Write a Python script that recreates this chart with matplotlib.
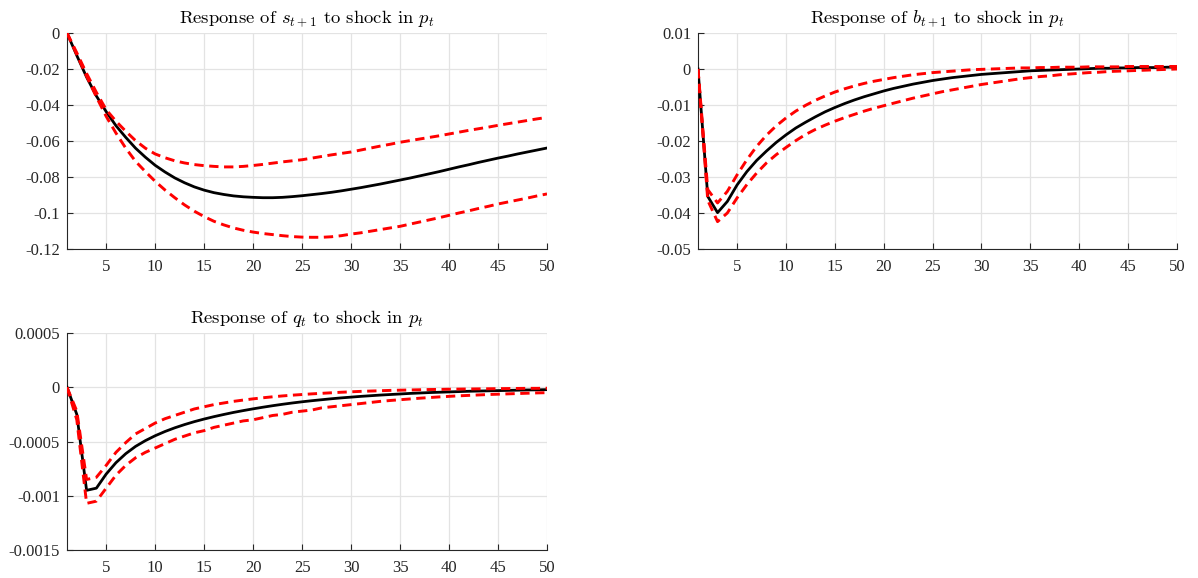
import numpy as np
import matplotlib
matplotlib.use("Agg")
import matplotlib.pyplot as plt

plt.rcParams['font.family'] = 'serif'
plt.rcParams['font.serif'] = ['Liberation Serif', 'DejaVu Serif']
plt.rcParams['mathtext.fontset'] = 'cm'
plt.rcParams['axes.unicode_minus'] = False

# horizon
t = np.arange(1, 51)

# response of s_{t+1}
s_mid = [0, -0.0125, -0.0245, -0.0350, -0.0437, -0.0515, -0.0580, -0.0640, -0.0690, -0.0735,
         -0.0772, -0.0805, -0.0832, -0.0855, -0.0873, -0.0887, -0.0897, -0.0905, -0.0910, -0.0913,
         -0.0915, -0.0915, -0.0913, -0.0909, -0.0904, -0.0898, -0.0892, -0.0885, -0.0877, -0.0868,
         -0.0859, -0.0849, -0.0839, -0.0828, -0.0817, -0.0806, -0.0794, -0.0782, -0.0770, -0.0757,
         -0.0744, -0.0732, -0.0719, -0.0707, -0.0695, -0.0684, -0.0672, -0.0661, -0.0650, -0.0639]
s_hi = [0, -0.0110, -0.0225, -0.0330, -0.0426, -0.0490, -0.0546, -0.0598, -0.0640, -0.0672,
        -0.0693, -0.0710, -0.0722, -0.0731, -0.0737, -0.0741, -0.0744, -0.0744, -0.0741, -0.0736,
        -0.0730, -0.0723, -0.0716, -0.0710, -0.0704, -0.0695, -0.0686, -0.0677, -0.0669, -0.0661,
        -0.0650, -0.0639, -0.0628, -0.0618, -0.0607, -0.0598, -0.0589, -0.0580, -0.0571, -0.0561,
        -0.0551, -0.0541, -0.0532, -0.0523, -0.0513, -0.0504, -0.0495, -0.0486, -0.0477, -0.0469]
s_lo = [0, -0.0120, -0.0240, -0.0355, -0.0463, -0.0556, -0.0640, -0.0713, -0.0770, -0.0824,
        -0.0872, -0.0915, -0.0955, -0.0990, -0.1020, -0.1046, -0.1066, -0.1083, -0.1096, -0.1106,
        -0.1114, -0.1120, -0.1126, -0.1131, -0.1134, -0.1135, -0.1135, -0.1132, -0.1126, -0.1117,
        -0.1110, -0.1101, -0.1092, -0.1083, -0.1074, -0.1062, -0.1050, -0.1038, -0.1026, -0.1013,
        -0.1000, -0.0988, -0.0975, -0.0963, -0.0950, -0.0939, -0.0928, -0.0917, -0.0905, -0.0894]

# response of b_{t+1}
b_mid = [0, -0.0354, -0.0399, -0.0368, -0.0322, -0.0285, -0.0254, -0.0228, -0.0204, -0.0183,
         -0.0164, -0.0148, -0.0133, -0.0119, -0.0107, -0.0096, -0.0086, -0.0077, -0.0069, -0.0061,
         -0.0054, -0.0048, -0.0042, -0.0037, -0.0032, -0.0028, -0.0024, -0.0021, -0.0018, -0.0015,
         -0.0013, -0.0011, -0.0009, -0.0007, -0.0005, -0.0004, -0.0003, -0.0002, -0.0001, 0.0000,
         0.0001, 0.0002, 0.0002, 0.0003, 0.0003, 0.0004, 0.0004, 0.0004, 0.0005, 0.0005]
b_hi = [0, -0.0335, -0.0372, -0.0340, -0.0294, -0.0252, -0.0215, -0.0184, -0.0158, -0.0136,
        -0.0117, -0.0101, -0.0087, -0.0075, -0.0064, -0.0055, -0.0047, -0.0040, -0.0034, -0.0029,
        -0.0024, -0.0020, -0.0016, -0.0013, -0.0010, -0.0008, -0.0006, -0.0004, -0.0002, -0.0001,
        0.0000, 0.0001, 0.0002, 0.0003, 0.0003, 0.0004, 0.0004, 0.0005, 0.0005, 0.0005,
        0.0006, 0.0006, 0.0006, 0.0006, 0.0007, 0.0007, 0.0007, 0.0007, 0.0007, 0.0007]
b_lo = [0, -0.0365, -0.0424, -0.0400, -0.0358, -0.0321, -0.0289, -0.0261, -0.0238, -0.0218,
        -0.0199, -0.0182, -0.0168, -0.0156, -0.0145, -0.0135, -0.0126, -0.0117, -0.0109, -0.0102,
        -0.0095, -0.0088, -0.0081, -0.0075, -0.0069, -0.0063, -0.0058, -0.0053, -0.0048, -0.0043,
        -0.0039, -0.0035, -0.0031, -0.0027, -0.0024, -0.0021, -0.0019, -0.0016, -0.0014, -0.0012,
        -0.0010, -0.0009, -0.0007, -0.0006, -0.0005, -0.0004, -0.0003, -0.0002, -0.0001, 0.0000]

# response of q_t
q_mid = [0, -0.00025, -0.00095, -0.00093, -0.00080, -0.000695, -0.000612, -0.000545, -0.000492, -0.000447,
         -0.000408, -0.000374, -0.000344, -0.000317, -0.000293, -0.000271, -0.000251, -0.000232, -0.000215, -0.000199,
         -0.000184, -0.000170, -0.000157, -0.000145, -0.000134, -0.000124, -0.000115, -0.000106, -0.000098, -0.000091,
         -0.000084, -0.000078, -0.000072, -0.000067, -0.000062, -0.000057, -0.000053, -0.000049, -0.000046, -0.000043,
         -0.000040, -0.000037, -0.000035, -0.000033, -0.000031, -0.000029, -0.000027, -0.000025, -0.000024, -0.000022]
q_hi = [0, -0.00022, -0.00085, -0.00083, -0.00072, -0.00060, -0.00051, -0.00043, -0.00038, -0.00033,
        -0.00029, -0.00026, -0.00023, -0.00020, -0.00018, -0.00016, -0.000145, -0.00013, -0.000118, -0.000107,
        -0.000097, -0.000088, -0.000080, -0.000073, -0.000067, -0.000061, -0.000056, -0.000051, -0.000046, -0.000042,
        -0.000038, -0.000035, -0.000032, -0.000029, -0.000027, -0.000025, -0.000023, -0.000021, -0.000020, -0.000018,
        -0.000017, -0.000016, -0.000015, -0.000014, -0.000013, -0.000012, -0.000011, -0.000010, -0.000010, -0.000009]
q_lo = [0, -0.00030, -0.00107, -0.00105, -0.00093, -0.00081, -0.00072, -0.00065, -0.00060, -0.00056,
        -0.00052, -0.00048, -0.00045, -0.00042, -0.00040, -0.00037, -0.00035, -0.00033, -0.00031, -0.00030,
        -0.00028, -0.00026, -0.00025, -0.00023, -0.00022, -0.00021, -0.00019, -0.00018, -0.00017, -0.00016,
        -0.00015, -0.00014, -0.00013, -0.000122, -0.000115, -0.000108, -0.000101, -0.000095, -0.000089, -0.000084,
        -0.000079, -0.000075, -0.000071, -0.000067, -0.000064, -0.000061, -0.000058, -0.000055, -0.000052, -0.000050]

x_ticks = [5, 10, 15, 20, 25, 30, 35, 40, 45, 50]
s_yticks = [0, -0.02, -0.04, -0.06, -0.08, -0.1, -0.12]
s_ylabels = ['0', '-0.02', '-0.04', '-0.06', '-0.08', '-0.1', '-0.12']
b_yticks = [0.01, 0, -0.01, -0.02, -0.03, -0.04, -0.05]
b_ylabels = ['0.01', '0', '-0.01', '-0.02', '-0.03', '-0.04', '-0.05']
q_yticks = [0.0005, 0, -0.0005, -0.001, -0.0015]
q_ylabels = ['0.0005', '0', '-0.0005', '-0.001', '-0.0015']

panels = [
    (r'Response of $s_{t+1}$ to shock in $p_t$', s_mid, s_hi, s_lo, s_yticks, s_ylabels,
     [67, 33, 480, 216]),
    (r'Response of $b_{t+1}$ to shock in $p_t$', b_mid, b_hi, b_lo, b_yticks, b_ylabels,
     [698, 33, 479, 216]),
    (r'Response of $q_t$ to shock in $p_t$', q_mid, q_hi, q_lo, q_yticks, q_ylabels,
     [67, 333, 480, 217]),
]

W, H = 1198, 578
fig = plt.figure(figsize=(W / 100, H / 100), dpi=100)
axis_col = '#262626'

for title, mid, hi, lo, yt, yl, (px, py, pw, ph) in panels:
    ax = fig.add_axes([px / W, 1 - (py + ph) / H, pw / W, ph / H])
    ax.plot(t, mid, color='black', lw=2.0, zorder=3)
    ax.plot(t, hi, color='red', lw=2.1, dashes=(3.2, 1.9), zorder=4)
    ax.plot(t, lo, color='red', lw=2.1, dashes=(3.2, 1.9), zorder=4)
    ax.set_xlim(1, 50)
    ax.set_ylim(min(yt), max(yt))
    ax.set_xticks(x_ticks)
    ax.set_yticks(yt)
    ax.set_yticklabels(yl)
    ax.grid(True, color='#e3e3e3', lw=0.9)
    ax.set_axisbelow(True)
    for sp in ['top', 'right']:
        ax.spines[sp].set_visible(False)
    for sp in ['left', 'bottom']:
        ax.spines[sp].set_color(axis_col)
        ax.spines[sp].set_linewidth(0.8)
    ax.tick_params(direction='in', length=4, width=0.8, colors=axis_col,
                   labelsize=12)
    ax.tick_params(axis='y', pad=5)
    ax.tick_params(axis='x', pad=7)
    ax.set_title(title, fontsize=13.4, pad=7, color='black', family='cmr10')

fig.savefig('out.png', dpi=100)
